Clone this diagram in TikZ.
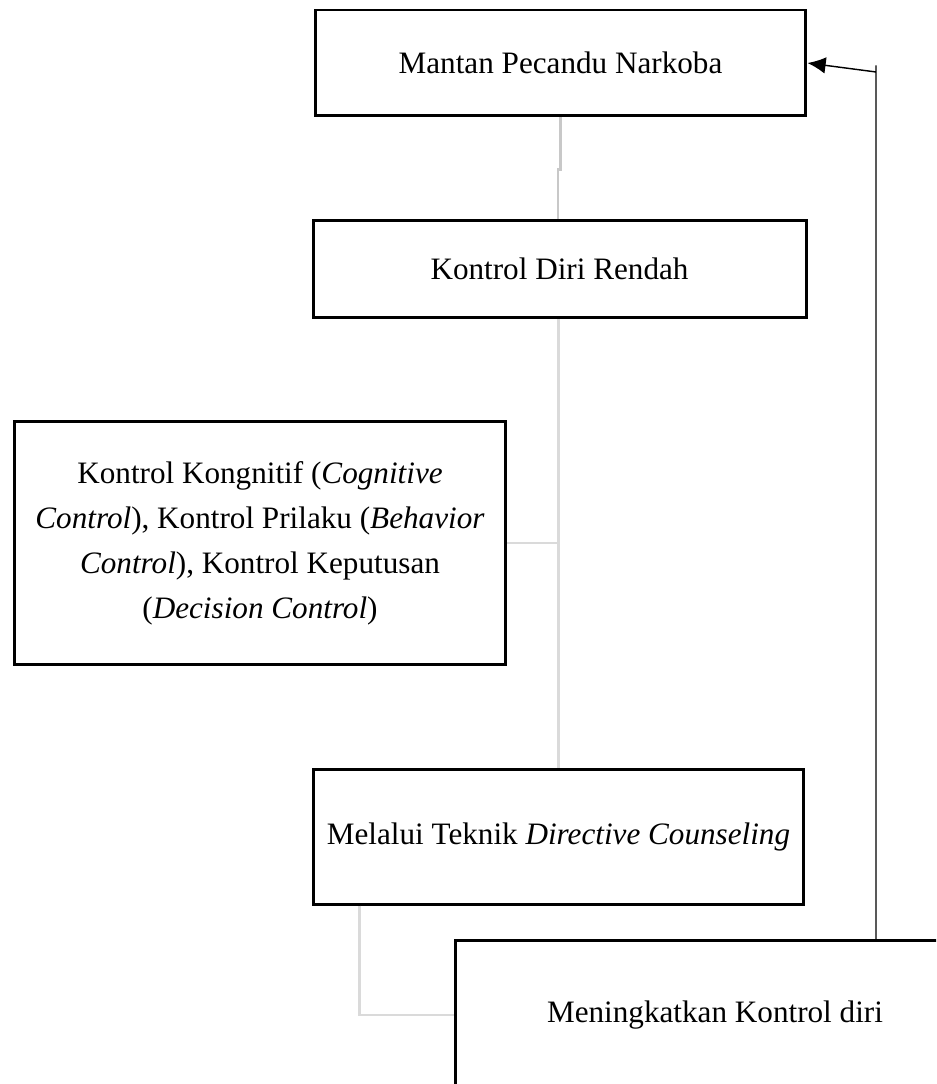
\documentclass[tikz,border=0pt]{standalone}
\usepackage{fontspec}
\setmainfont{Liberation Serif}
\usetikzlibrary{arrows.meta,positioning,calc}
\definecolor{LineGray}{HTML}{DADADA}
\definecolor{MidGray}{HTML}{C8C8C8}
\definecolor{DarkText}{HTML}{000000}
\tikzset{
  box/.style={draw=black, fill=white, line width=1.15pt, inner sep=1pt, align=center, font=\fontsize{12}{17.3}\selectfont},
  link/.style={draw=LineGray, line width=0.9pt},
  arr/.style={-{Latex[length=7pt,width=6.4pt]}, line width=0.55pt, draw=DarkText}
}
\begin{document}
\begin{tikzpicture}[x=0.385pt,y=-0.385pt]
\clip (0,0) rectangle (936,1084);
\fill[white] (0,0) rectangle (936,1084);
\node[box, minimum width=189pt, minimum height=40.8pt] (mantan) at (560.5,63) {Mantan Pecandu Narkoba};
\node[box, minimum width=189.8pt, minimum height=37.7pt] (rendah) at (559.5,269) {Kontrol Diri Rendah};
\node[box, minimum width=189.4pt, minimum height=93.9pt] (kognitif) at (260,543) {Kontrol Kongnitif (\textit{Cognitive}\\\textit{Control}), Kontrol Prilaku (\textit{Behavior}\\\textit{Control}), Kontrol Keputusan\\(\textit{Decision Control})};
\node[box, minimum width=189pt, minimum height=51.6pt] (melalui) at (558.5,837) {Melalui Teknik \textit{Directive Counseling}};
\node[box, minimum width=200pt, minimum height=57pt] (naik) at (715,1015) {Meningkatkan Kontrol diri};
\coordinate (turn) at (876,72);
% garis penghubung
\draw[link, draw=MidGray] (mantan.south) -- ++(0,52) -| ([xshift=-0.6pt]rendah.north);
\draw[link] ([xshift=-0.4pt]rendah.south) -- ([xshift=-0.4pt]rendah.south |- melalui.north);
\draw[link] (kognitif.east) -- (kognitif.east -| {$(rendah.south)+(-0.4pt,0)$});
\draw[link] ([xshift=18.5pt]melalui.south west) |- (naik.west);
\draw[arr] (turn |- naik.north) -- ([yshift=2.5pt]turn) (turn) -- (mantan.east);
\end{tikzpicture}
\end{document}
